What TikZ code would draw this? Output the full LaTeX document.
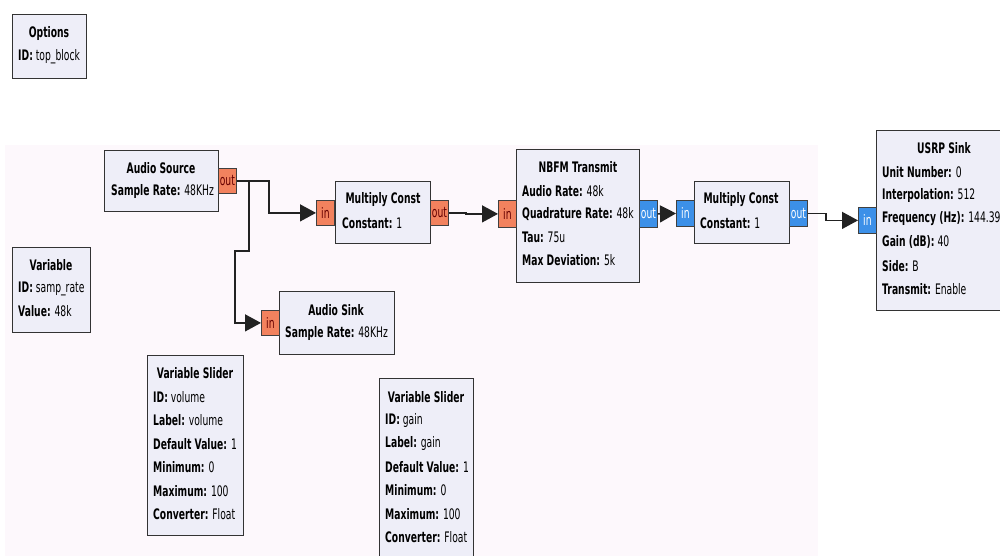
\documentclass[tikz,border=0pt]{standalone}
\usepackage{fontspec}
\setmainfont{DejaVu Sans}[FakeStretch=0.635]
\usetikzlibrary{arrows.meta}
\definecolor{blockfill}{HTML}{EEEEF8}
\definecolor{floatport}{HTML}{F2825E}
\definecolor{cplxport}{HTML}{3C90E8}
\definecolor{canvas}{HTML}{FDF8FC}
\definecolor{wirecol}{HTML}{222222}

\begin{document}
\begin{tikzpicture}[x=1pt,y=-1pt,
  every node/.style={font=\fontsize{14.5}{23}\selectfont},
  blk/.style={draw=black!80, fill=blockfill, line width=1.2pt, inner sep=0pt, anchor=north west},
  ttl/.style={inner sep=0pt, font=\fontsize{14.5}{23}\selectfont\bfseries},
  prm/.style={inner sep=0pt, anchor=west},
  port/.style={draw=black!75, line width=0.8pt, inner sep=0pt, anchor=north west, minimum width=18pt, minimum height=25pt},
  fport/.style={port, fill=floatport, text=black!60!red},
  cport/.style={port, fill=cplxport, text=white},
  wire/.style={draw=wirecol, line width=1.4pt, -{Triangle[length=16pt,width=17pt]}}
]
\useasboundingbox (0,0) rectangle (1000,556);
\clip (0,0) rectangle (1000,556);
\fill[canvas] (5,145) rectangle (818,556);

% options and variables
\node[blk, minimum width=74pt, minimum height=64pt] (opt) at (12,14) {};
\node[ttl] (optT) at (49,34) {Options};
\node[prm] (opt-1) at (18,57) {\textbf{ID:} top\_block};

\node[blk, minimum width=78pt, minimum height=85pt] (var) at (12,247) {};
\node[ttl] (varT) at (51,265) {Variable};
\foreach \k/\v [count=\i] in {ID/samp\_rate, Value/48k}
  \node[prm] (var-\i) at (18,{289+22*(\i-1)}) {\textbf{\k:} \v};

% audio source
\node[blk, minimum width=114pt, minimum height=61pt] (src) at (104,150) {};
\node[ttl] (srcT) at (161,168) {Audio Source};
\node[prm] (src-1) at (111,191) {\textbf{Sample Rate:} 48KHz};
\node[fport, minimum height=25pt] (srcout) at (218,168) {out};

% multiply const (float)
\node[blk, minimum width=95pt, minimum height=62pt] (mca) at (335,181) {};
\node[ttl] (mcaT) at (383,200) {Multiply Const};
\node[prm] (mca-1) at (342,223) {\textbf{Constant:} 1};
\node[fport] (mcain) at (316,200) {in};
\node[fport] (mcaout) at (430,200) {out};

% audio sink
\node[blk, minimum width=115pt, minimum height=63pt] (snk) at (279,291) {};
\node[ttl] (snkT) at (336,310) {Audio Sink};
\node[prm] (snk-1) at (285,333) {\textbf{Sample Rate:} 48KHz};
\node[fport] (snkin) at (261,310) {in};

% nbfm transmit
\node[blk, minimum width=123pt, minimum height=133pt] (fm) at (516,149) {};
\node[ttl] (fmT) at (578,167) {NBFM Transmit};
\foreach \k/\v [count=\i] in {Audio Rate/48k, Quadrature Rate/48k, Tau/75u, Max Deviation/5k}
  \node[prm] (fm-\i) at (522,{191+23*(\i-1)}) {\textbf{\k:} \v};
\node[fport, minimum height=27pt] (fmin) at (498,200) {in};
\node[cport, minimum height=27pt] (fmout) at (639,200) {out};

% multiply const (complex)
\node[blk, minimum width=95pt, minimum height=62pt] (mcb) at (694,181) {};
\node[ttl] (mcbT) at (741,200) {Multiply Const};
\node[prm] (mcb-1) at (700,223) {\textbf{Constant:} 1};
\node[cport, minimum height=26pt] (mcbin) at (676,200) {in};
\node[cport, minimum height=26pt] (mcbout) at (789,200) {out};

% usrp sink
\node[blk, minimum width=136pt, minimum height=180pt] (usrp) at (876,130) {};
\node[ttl] (usrpT) at (944,148) {USRP Sink};
\foreach \k/\v [count=\i] in {Unit Number/0, Interpolation/512, Frequency (Hz)/144.39M, Gain (dB)/40, Side/B, Transmit/Enable}
  \node[prm] (usrp-\i) at (882,{172+23.4*(\i-1)}) {\textbf{\k:} \v};
\node[cport, minimum height=26pt] (usrpin) at (858,207) {in};

% sliders
\node[blk, minimum width=96pt, minimum height=180pt] (vol) at (147,355) {};
\node[ttl] (volT) at (195,373) {Variable Slider};
\foreach \k/\v [count=\i] in {ID/volume, Label/volume, Default Value/1, Minimum/0, Maximum/100, Converter/Float}
  \node[prm] (vol-\i) at (153,{397+23.4*(\i-1)}) {\textbf{\k:} \v};

\node[blk, minimum width=94pt, minimum height=190pt] (gain) at (379,378) {};
\node[ttl] (gainT) at (426,397) {Variable Slider};
\foreach \k/\v [count=\i] in {ID/gain, Label/gain, Default Value/1, Minimum/0, Maximum/100, Converter/Float}
  \node[prm] (gain-\i) at (385,{420+23.4*(\i-1)}) {\textbf{\k:} \v};

% connections
\draw[wire] (srcout.east) -- ++(32,0) |- (mcain.west);
\draw[wire] (srcout.east) -- ++(12,0) -- ++(0,70) -- ++(-14,0) |- (snkin.west);
\draw[wire] (mcaout.east) -- ++(17,0) |- (fmin.west);
\draw[wire] (fmout.east) -- (mcbin.west);
\draw[wire] (mcbout.east) -- ++(18,0) |- (usrpin.west);
\end{tikzpicture}
\end{document}
